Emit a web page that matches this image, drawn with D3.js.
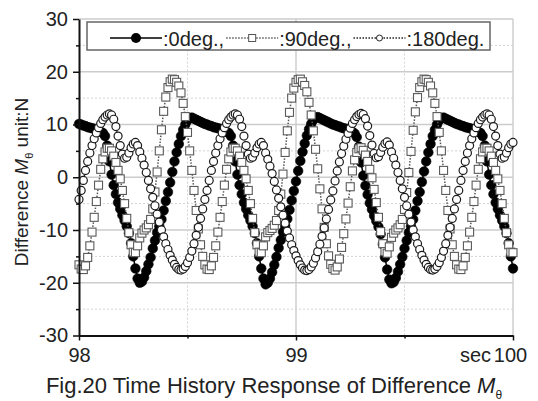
<!DOCTYPE html>
<html>
<head>
<meta charset="utf-8">
<script src="https://cdn.jsdelivr.net/npm/d3@7"></script>
<style>
body { margin: 0; background: #fff; }
text { font-family: "Liberation Sans", Arial, sans-serif; }
</style>
</head>
<body>
<script>
// Sampling of the records: one value every 0.01 s from 98 s to 100 s
let tStart = 98
let tStep = 0.01

// 0deg. (filled circles)
let deg0 = [
  10.1, 10.0, 9.8, 9.7, 9.5, 9.4, 9.3, 9.2, 9.0, 8.8, 8.6, 8.4, 7.8, 6.0, 3.0, 0.5, -1.5, -3.2, -4.8, -6.0, -7.2, -8.2, -9.3, -10.6, -12.5, -15.0, -17.3, -19.2,
  -20.0, -19.8, -19.0, -17.8, -16.5, -15.2, -13.5, -12.0, -10.5, -9.3, -8.0, -6.3, -4.5, -2.8, -1.0, 1.0, 3.0, 4.7, 6.3, 7.8, 9.0, 10.0, 10.8, 11.2, 11.3, 11.1, 10.9, 10.7, 10.5, 10.3,
  10.1, 10.0, 9.8, 9.7, 9.5, 9.4, 9.3, 9.2, 9.0, 8.8, 8.6, 8.4, 7.8, 6.0, 3.0, 0.5, -1.5, -3.2, -4.8, -6.0, -7.2, -8.2, -9.3, -10.6, -12.5, -15.0, -17.3, -19.2,
  -20.3, -20.0, -19.2, -18.0, -16.6, -15.1, -13.4, -11.9, -10.4, -9.2, -7.9, -6.2, -4.4, -2.6, -0.8, 1.2, 3.1, 4.8, 6.4, 7.9, 9.1, 10.1, 10.9, 11.3, 11.4, 11.2, 11.0, 10.8, 10.6, 10.4,
  10.2, 10.0, 9.9, 9.7, 9.6, 9.4, 9.3, 9.2, 9.0, 8.8, 8.6, 8.3, 7.6, 5.8, 2.8, 0.3, -1.6, -3.3, -4.9, -6.1, -7.3, -8.3, -9.4, -10.8, -12.7, -15.2, -17.5, -19.4,
  -20.1, -19.9, -19.1, -17.9, -16.5, -15.1, -13.5, -12.0, -10.5, -9.3, -8.0, -6.3, -4.5, -2.8, -0.9, 1.1, 3.0, 4.7, 6.3, 7.8, 9.0, 10.0, 10.8, 11.2, 11.3, 11.1, 10.9, 10.7, 10.5, 10.3,
  10.1, 10.0, 9.8, 9.7, 9.5, 9.4, 9.3, 9.2, 9.0, 8.8, 8.6, 8.4, 7.8, 6.0, 3.0, 0.5, -1.5, -3.2, -4.8, -6.0, -7.2, -8.2, -9.3, -10.6, -12.5, -15.0, -17.3
]

// 90deg. (open squares)
let deg90 = [
  -16.6, -17.4, -17.5, -16.8, -15.2, -13.0, -10.4, -7.6, -4.6, -1.5, 1.5, 3.5, 4.8, 5.5, 5.5, 5.0, 4.0, 2.8, 1.3, -0.3, -2.5, -5.0, -7.8, -10.5, -12.8, -14.2, -14.3, -13.0,
  -11.5, -10.6, -10.0, -9.6, -9.0, -8.0, -6.0, -2.8, 1.0, 5.0, 9.0, 12.5, 15.2, 17.0, 18.1, 18.6, 18.5, 18.0, 17.3, 16.0, 14.0, 11.5, 8.5, 5.0, 1.3, -2.5, -6.3, -9.8, -12.8, -15.0,
  -16.6, -17.4, -17.5, -16.8, -15.2, -13.0, -10.4, -7.6, -4.6, -1.5, 1.5, 3.5, 4.8, 5.5, 5.5, 5.0, 4.0, 2.8, 1.3, -0.3, -2.5, -5.0, -7.8, -10.5, -12.8, -14.2, -14.3, -13.0,
  -11.3, -10.5, -10.1, -9.7, -9.1, -8.2, -6.3, -3.2, 0.6, 4.7, 8.8, 12.3, 15.0, 16.9, 18.0, 18.5, 18.6, 18.1, 17.4, 16.2, 14.2, 11.8, 8.8, 5.3, 1.6, -2.2, -6.0, -9.5, -12.6, -14.9,
  -16.5, -17.3, -17.6, -17.0, -15.5, -13.3, -10.7, -7.9, -4.9, -1.8, 1.2, 3.3, 4.7, 5.4, 5.6, 5.1, 4.2, 3.0, 1.5, -0.1, -2.3, -4.8, -7.6, -10.3, -12.6, -14.1, -14.4, -13.2,
  -11.4, -10.6, -10.0, -9.6, -9.0, -8.0, -6.1, -2.9, 0.9, 4.9, 8.9, 12.4, 15.1, 17.0, 18.1, 18.6, 18.5, 18.0, 17.3, 16.0, 14.0, 11.5, 8.5, 5.0, 1.3, -2.5, -6.3, -9.8, -12.8, -15.0,
  -16.6, -17.4, -17.5, -16.8, -15.2, -13.0, -10.4, -7.6, -4.6, -1.5, 1.5, 3.5, 4.8, 5.5, 5.5, 5.0, 4.0, 2.8, 1.3, -0.3, -2.5, -5.0, -7.8, -10.5, -12.8, -14.2, -14.3
]

// 180deg. (open circles)
let deg180 = [
  -4.2, -2.5, -0.6, 1.3, 3.0, 4.6, 6.0, 7.3, 8.4, 9.4, 10.2, 10.9, 11.4, 11.8, 12.0, 11.8, 11.0, 9.6, 7.8, 6.0, 4.4, 3.6, 3.8, 4.6, 5.6, 6.3, 6.6, 6.0,
  4.8, 3.6, 2.3, 0.9, -0.6, -2.2, -3.8, -5.4, -7.0, -8.5, -10.0, -11.3, -12.6, -13.7, -14.8, -15.7, -16.5, -17.1, -17.5, -17.6, -17.4, -16.9, -16.2, -15.2, -14.0, -12.6, -11.0, -9.5, -7.8, -6.0,
  -4.2, -2.5, -0.6, 1.3, 3.0, 4.6, 6.0, 7.3, 8.4, 9.4, 10.2, 10.9, 11.4, 11.8, 12.0, 11.8, 11.0, 9.6, 7.8, 6.0, 4.4, 3.6, 3.8, 4.6, 5.6, 6.3, 6.6, 6.0,
  4.6, 3.4, 2.1, 0.7, -0.8, -2.4, -4.0, -5.6, -7.2, -8.7, -10.2, -11.5, -12.8, -13.9, -14.9, -15.8, -16.6, -17.2, -17.6, -17.7, -17.5, -17.0, -16.3, -15.3, -14.1, -12.7, -11.2, -9.6, -7.9, -6.1,
  -4.3, -2.6, -0.7, 1.2, 2.9, 4.5, 5.9, 7.2, 8.3, 9.3, 10.2, 10.9, 11.5, 11.9, 12.1, 11.9, 11.1, 9.7, 7.9, 6.1, 4.5, 3.7, 3.9, 4.7, 5.7, 6.4, 6.7, 6.1,
  4.8, 3.6, 2.3, 0.9, -0.6, -2.2, -3.8, -5.4, -7.0, -8.5, -10.0, -11.3, -12.6, -13.7, -14.8, -15.7, -16.5, -17.1, -17.5, -17.6, -17.4, -16.9, -16.2, -15.2, -14.0, -12.6, -11.0, -9.5, -7.8, -6.0,
  -4.2, -2.5, -0.6, 1.3, 3.0, 4.6, 6.0, 7.3, 8.4, 9.4, 10.2, 10.9, 11.4, 11.8, 12.0, 11.8, 11.0, 9.6, 7.8, 6.0, 4.4, 3.6, 3.8, 4.6, 5.6, 6.3, 6.6
]

let yTicks = [-30, -20, -10, 0, 10, 20, 30]
let yMinorTicks = [-25, -15, -5, 5, 15, 25]
let xTicks = [98, 99, 100]
let xMinorTicks = [98.5, 99.5]
let legendLabels = [":0deg.,", ":90deg.,", ":180deg."]

let font = '"Liberation Sans", Arial, sans-serif'

// series drawing styles
let series = [
  { values: deg0,   label: legendLabels[0], marker: "dot",    line: "#000", dash: null },
  { values: deg90,  label: legendLabels[1], marker: "square", line: "#555", dash: "1.5,1.5" },
  { values: deg180, label: legendLabels[2], marker: "circle", line: "#222", dash: "1.5,1.5" }
]

let svg = d3.select("body")
  .append("svg")
  .attr("width", 538)
  .attr("height", 401)

svg.append("rect").attr("width", 538).attr("height", 401).attr("fill", "#fff")

// scales
let x = d3.scaleLinear().domain([98, 100]).range([79, 513])
let y = d3.scaleLinear().domain([-30, 30]).range([335.5, 19])

// grid lines
let grid = svg.append("g")
grid.selectAll(".gmaj-y")
  .data(yTicks.filter(d => d > -30))
  .join("line")
  .attr("x1", x(98)).attr("x2", x(100))
  .attr("y1", d => y(d)).attr("y2", d => y(d))
  .attr("stroke", "#cccccc").attr("stroke-width", 1.4)
grid.selectAll(".gmin-y")
  .data(yMinorTicks)
  .join("line")
  .attr("x1", x(98)).attr("x2", x(100))
  .attr("y1", d => y(d)).attr("y2", d => y(d))
  .attr("stroke", "#d2d2d2").attr("stroke-width", 1).attr("stroke-dasharray", "2,2")
grid.selectAll(".gmaj-x")
  .data(xTicks.filter(d => d > 98))
  .join("line")
  .attr("x1", d => x(d)).attr("x2", d => x(d))
  .attr("y1", y(-30)).attr("y2", y(30))
  .attr("stroke", "#cccccc").attr("stroke-width", 1.4)
grid.selectAll(".gmin-x")
  .data(xMinorTicks)
  .join("line")
  .attr("x1", d => x(d)).attr("x2", d => x(d))
  .attr("y1", y(-30)).attr("y2", y(30))
  .attr("stroke", "#d2d2d2").attr("stroke-width", 1).attr("stroke-dasharray", "2,2")

// series: line then markers
series.forEach(s => {
  let pts = s.values.map((v, i) => ({ t: tStart + i * tStep, v: v }))
  let g = svg.append("g")
  let path = g.append("path")
    .datum(pts)
    .attr("fill", "none")
    .attr("stroke", s.line)
    .attr("stroke-width", 1.5)
    .attr("d", d3.line().x(d => x(d.t)).y(d => y(d.v)))
  if (s.dash) path.attr("stroke-dasharray", s.dash)

  if (s.marker == "dot") {
    g.selectAll("circle").data(pts).join("circle")
      .attr("cx", d => x(d.t)).attr("cy", d => y(d.v))
      .attr("r", 4.8).attr("fill", "#000").attr("stroke", "#000").attr("stroke-width", 0.6)
  } else if (s.marker == "square") {
    g.selectAll("rect").data(pts).join("rect")
      .attr("x", d => x(d.t) - 4).attr("y", d => y(d.v) - 4)
      .attr("width", 8).attr("height", 8)
      .attr("fill", "#fff").attr("stroke", "#5a5a5a").attr("stroke-width", 1.1)
  } else {
    g.selectAll("circle").data(pts).join("circle")
      .attr("cx", d => x(d.t)).attr("cy", d => y(d.v))
      .attr("r", 4).attr("fill", "#fff").attr("stroke", "#1a1a1a").attr("stroke-width", 1.2)
  }
})

// axes
let yAxis = svg.append("g")
  .attr("transform", "translate(" + x(98) + ",0)")
  .call(d3.axisLeft(y).tickValues(yTicks).tickSize(6).tickSizeOuter(0).tickPadding(5).tickFormat(d => String(d)))
yAxis.attr("font-size", 20).attr("font-family", font)
yAxis.select(".domain").attr("stroke", "#111").attr("stroke-width", 2)
yAxis.selectAll(".tick line").attr("stroke", "#111").attr("stroke-width", 1.5)
yAxis.selectAll(".tick text").attr("fill", "#222")

svg.append("g")
  .attr("transform", "translate(" + x(98) + ",0)")
  .call(d3.axisLeft(y).tickValues(yMinorTicks).tickSize(3).tickFormat(""))
  .call(g => g.select(".domain").remove())
  .selectAll(".tick line").attr("stroke", "#111").attr("stroke-width", 1.5)

let xAxis = svg.append("g")
  .attr("transform", "translate(0," + y(-30) + ")")
  .call(d3.axisBottom(x).tickValues(xTicks).tickSize(5).tickSizeOuter(0).tickPadding(7).tickFormat(d => String(d)))
xAxis.attr("font-size", 20).attr("font-family", font)
xAxis.select(".domain").attr("stroke", "#111").attr("stroke-width", 2)
xAxis.selectAll(".tick line").attr("stroke", "#111").attr("stroke-width", 1.5)
xAxis.selectAll(".tick text").attr("fill", "#222")
xAxis.selectAll(".tick text").filter(d => d == 100).attr("dx", -3)

svg.append("g")
  .attr("transform", "translate(0," + y(-30) + ")")
  .call(d3.axisBottom(x).tickValues(xMinorTicks).tickSize(3).tickFormat(""))
  .call(g => g.select(".domain").remove())
  .selectAll(".tick line").attr("stroke", "#111").attr("stroke-width", 1.5)

// unit in front of the last x label
svg.append("text")
  .attr("x", x(100) - 22).attr("y", y(-30) + 26)
  .attr("text-anchor", "end")
  .attr("font-size", 20).attr("fill", "#222")
  .text("sec")

// y axis title
let yTitle = svg.append("text")
  .attr("transform", "translate(28,182) rotate(-90)")
  .attr("text-anchor", "middle")
  .attr("font-size", 19).attr("fill", "#222")
yTitle.append("tspan").text("Difference ")
yTitle.append("tspan").attr("font-style", "italic").text("M")
yTitle.append("tspan").attr("font-size", 11).attr("dy", 5).text("θ")
yTitle.append("tspan").attr("dy", -5).text(" unit:N")

// caption
let caption = svg.append("text")
  .attr("x", 274).attr("y", 393)
  .attr("text-anchor", "middle")
  .attr("font-size", 22).attr("fill", "#222")
caption.append("tspan").text("Fig.20 Time History Response of Difference ")
caption.append("tspan").attr("font-style", "italic").text("M")
caption.append("tspan").attr("font-size", 12).attr("dy", 6).text("θ")

// legend
let legend = svg.append("g")
legend.append("rect")
  .attr("x", 87).attr("y", 22).attr("width", 403).attr("height", 28)
  .attr("fill", "#fff").attr("stroke", "#666").attr("stroke-width", 1.5)

let lx = 110
let ly = 38
series.forEach(s => {
  let seg = legend.append("line")
    .attr("x1", lx).attr("x2", lx + 52).attr("y1", ly).attr("y2", ly)
    .attr("stroke", s.line).attr("stroke-width", 1.5)
  if (s.dash) seg.attr("stroke-dasharray", s.dash)
  let mx = lx + 26
  if (s.marker == "dot") {
    legend.append("circle").attr("cx", mx).attr("cy", ly).attr("r", 5).attr("fill", "#000")
  } else if (s.marker == "square") {
    legend.append("rect").attr("x", mx - 3.5).attr("y", ly - 3.5).attr("width", 7).attr("height", 7)
      .attr("fill", "#fff").attr("stroke", "#555").attr("stroke-width", 1)
  } else {
    legend.append("circle").attr("cx", mx).attr("cy", ly).attr("r", 3)
      .attr("fill", "#fff").attr("stroke", "#222").attr("stroke-width", 1)
  }
  let txt = legend.append("text")
    .attr("x", lx + 53).attr("y", ly + 8)
    .attr("font-size", 20).attr("fill", "#222")
    .text(s.label)
  lx = lx + 53 + txt.node().getComputedTextLength() + 2
})
</script>
</body>
</html>
